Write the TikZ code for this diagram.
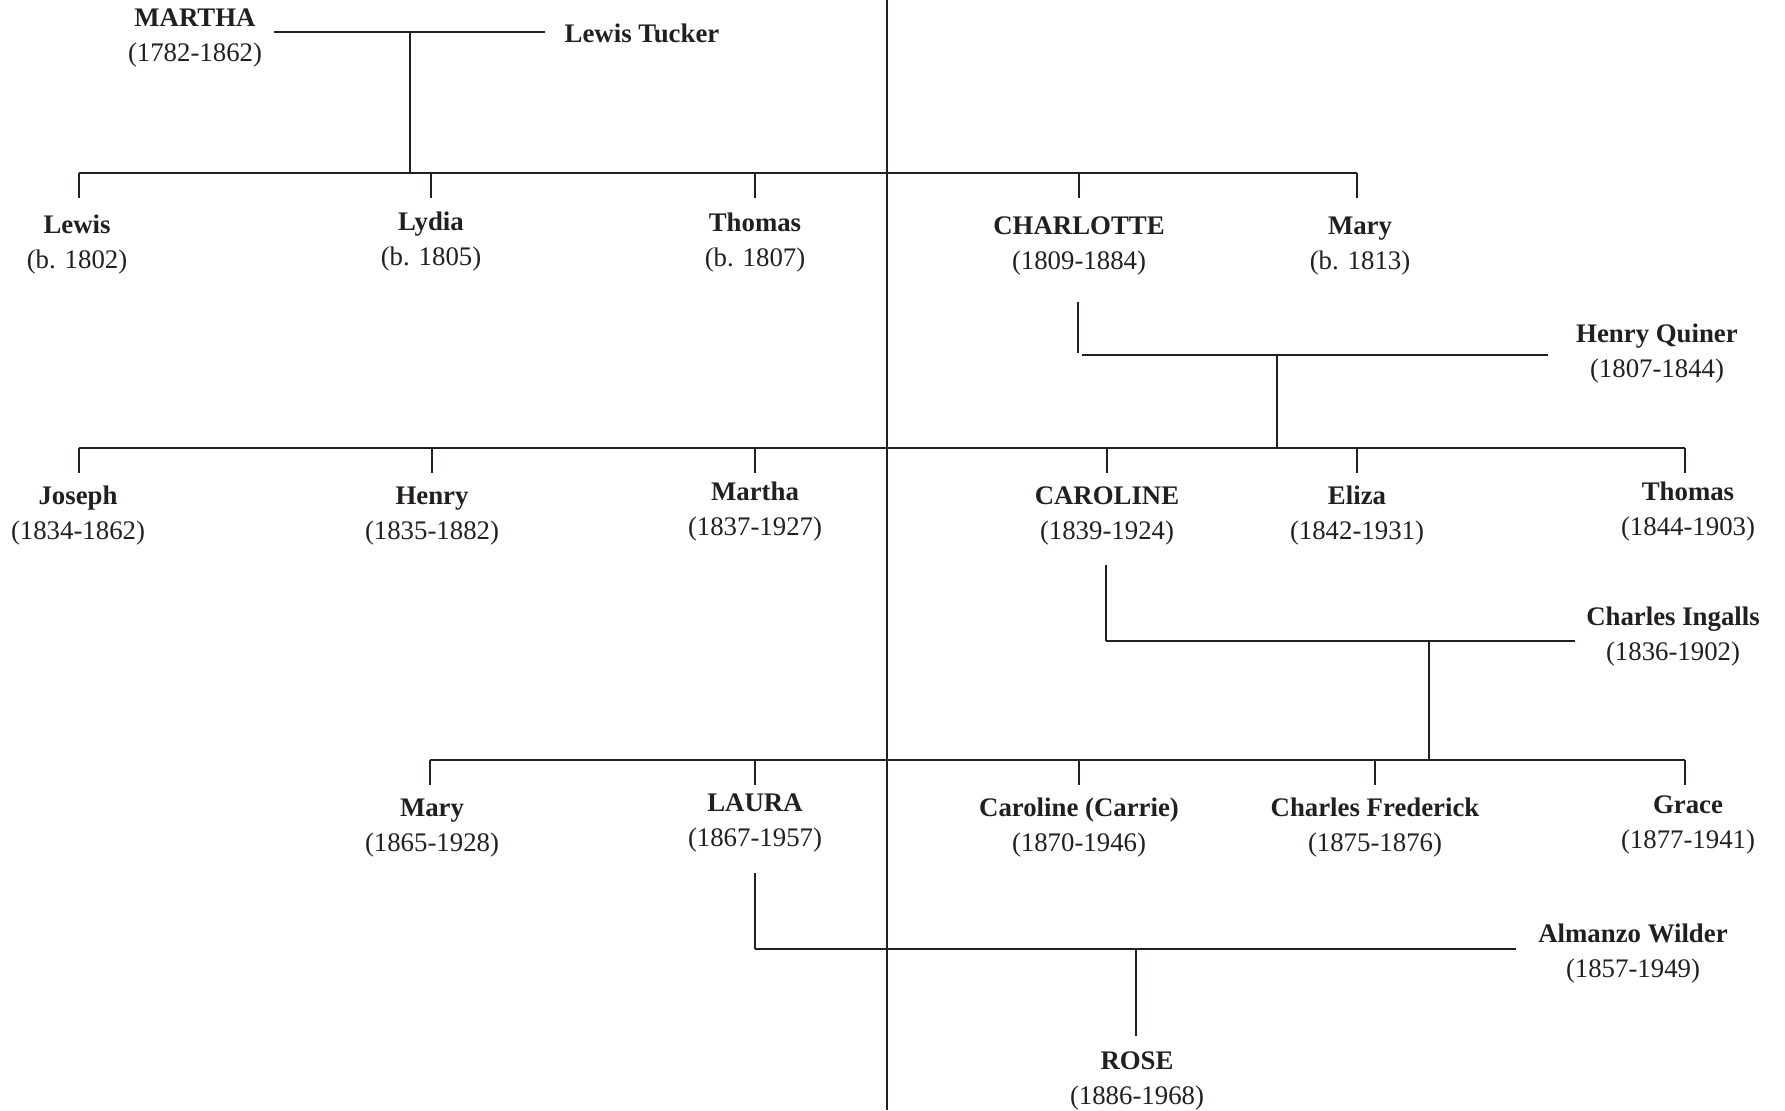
\documentclass[tikz,border=0pt]{standalone}
\usepackage{fontspec}
\setmainfont{Liberation Serif}
\definecolor{ink}{HTML}{231F20}
\begin{document}
\begin{tikzpicture}[x=0.5pt,y=-0.5pt,
  person/.style={align=center,font=\fontsize{13.4}{17.6}\selectfont,inner sep=0pt,text=ink,yshift=-1.6pt},
  hline/.style={draw=ink,line width=1.1pt},
  vline/.style={draw=ink,line width=0.8pt}]
\useasboundingbox[fill=white] (0,0) rectangle (1785,1110);
% people
\node[person] (martha) at (195,34.5) {\textbf{MARTHA}\\(1782-1862)};
\node[person,yshift=0.6pt] (tucker) at (642,31) {\textbf{Lewis Tucker}};
\node[person] (lewis) at (77,241.5) {\textbf{Lewis}\\(b. 1802)};
\node[person] (lydia) at (431,238.5) {\textbf{Lydia}\\(b. 1805)};
\node[person] (thomasa) at (755,239.5) {\textbf{Thomas}\\(b. 1807)};
\node[person] (charlotte) at (1079,242.5) {\textbf{CHARLOTTE}\\(1809-1884)};
\node[person] (marya) at (1360,242.5) {\textbf{Mary}\\(b. 1813)};
\node[person] (quiner) at (1657,350.5) {\textbf{Henry Quiner}\\(1807-1844)};
\node[person] (joseph) at (78,512.5) {\textbf{Joseph}\\(1834-1862)};
\node[person] (henry) at (432,512.5) {\textbf{Henry}\\(1835-1882)};
\node[person] (marthab) at (755,508.5) {\textbf{Martha}\\(1837-1927)};
\node[person] (caroline) at (1107,512.5) {\textbf{CAROLINE}\\(1839-1924)};
\node[person] (eliza) at (1357,512.5) {\textbf{Eliza}\\(1842-1931)};
\node[person] (thomasb) at (1688,508.5) {\textbf{Thomas}\\(1844-1903)};
\node[person] (ingalls) at (1673,633.5) {\textbf{Charles Ingalls}\\(1836-1902)};
\node[person] (maryb) at (432,824.5) {\textbf{Mary}\\(1865-1928)};
\node[person] (laura) at (755,820) {\textbf{LAURA}\\(1867-1957)};
\node[person] (carrie) at (1079,824.5) {\textbf{Caroline (Carrie)}\\(1870-1946)};
\node[person] (charlesf) at (1375,824.5) {\textbf{Charles Frederick}\\(1875-1876)};
\node[person] (grace) at (1688,821.5) {\textbf{Grace}\\(1877-1941)};
\node[person] (almanzo) at (1633,950.5) {\textbf{Almanzo Wilder}\\(1857-1949)};
\node[person] (rose) at (1137,1077.5) {\textbf{ROSE}\\(1886-1968)};
% junction coordinates
\coordinate (mA) at (274,32);
\coordinate (mB) at (545,32);
\coordinate (jA) at (410,32);
\coordinate (rowA) at (410,173);
\coordinate (rowAl) at (79,173);
\coordinate (rowAr) at (1357,173);
\coordinate (chA) at (1078,302);
\coordinate (chB) at (1078,353);
\coordinate (qA) at (1082,355);
\coordinate (qB) at (1548,355);
\coordinate (jB) at (1277,355);
\coordinate (rowB) at (1277,448);
\coordinate (rowBl) at (79,448);
\coordinate (rowBr) at (1685,448);
\coordinate (caA) at (1106,565);
\coordinate (caB) at (1106,641);
\coordinate (inB) at (1575,641);
\coordinate (jC) at (1429,641);
\coordinate (rowC) at (1429,760);
\coordinate (rowCl) at (430,760);
\coordinate (rowCr) at (1685,760);
\coordinate (laA) at (755,873);
\coordinate (laB) at (755,949);
\coordinate (alB) at (1516,949);
\coordinate (jD) at (1136,949);
\coordinate (roseT) at (1136,1036);
\coordinate (axT) at (887,0);
\coordinate (axB) at (887,1110);
% central axis
\draw[vline] (axT) -- (axB);
% generation 1
\draw[hline] (mA) -- (mB);
\draw[vline] (jA) -- (rowA);
\draw[hline] (rowAl) -- (rowAr);
\draw[vline] (rowAl) -- ++(0,25);
\foreach \p in {lydia,thomasa,charlotte}
  \draw[vline] (\p |- rowA) -- ++(0,25);
\draw[vline] (rowAr) -- ++(0,25);
% generation 2
\draw[vline] (chA) -- (chB);
\draw[hline] (qA) -- (qB);
\draw[vline] (jB) -- (rowB);
\draw[hline] (rowBl) -- (rowBr);
\draw[vline] (rowBl) -- ++(0,25);
\foreach \p in {henry,marthab,caroline,eliza}
  \draw[vline] (\p |- rowB) -- ++(0,25);
\draw[vline] (rowBr) -- ++(0,25);
% generation 3
\draw[vline] (caA) -- (caB);
\draw[hline] (caB) -- (inB);
\draw[vline] (jC) -- (rowC);
\draw[hline] (rowCl) -- (rowCr);
\draw[vline] (rowCl) -- ++(0,25);
\foreach \p in {laura,carrie,charlesf}
  \draw[vline] (\p |- rowC) -- ++(0,25);
\draw[vline] (rowCr) -- ++(0,25);
% generation 4
\draw[vline] (laA) -- (laB);
\draw[hline] (laB) -- (alB);
\draw[vline] (jD) -- (roseT);
\end{tikzpicture}
\end{document}
